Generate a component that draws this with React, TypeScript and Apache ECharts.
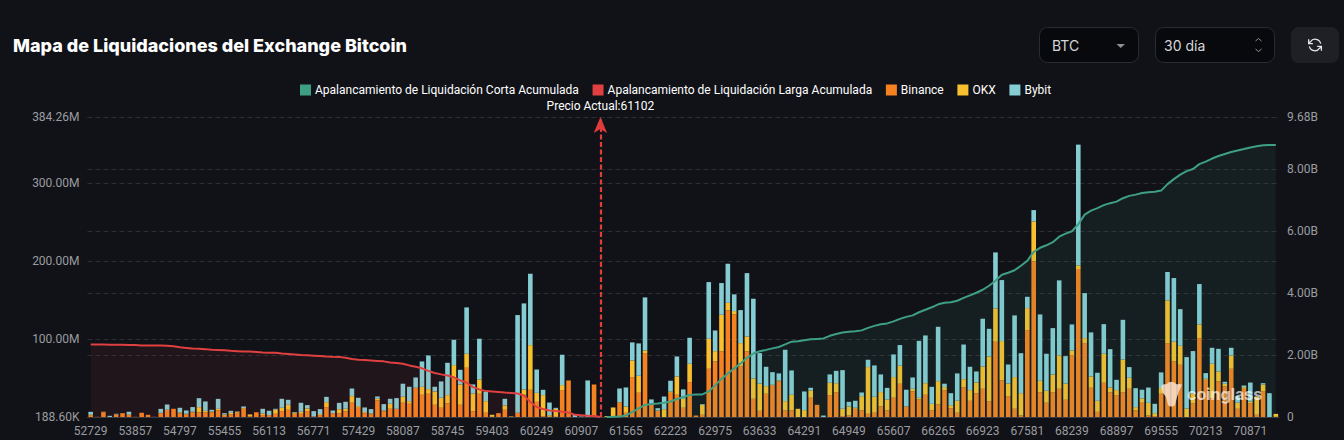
import React, { useEffect, useRef } from "react";
import * as echarts from "echarts";

const title = "Mapa de Liquidaciones del Exchange Bitcoin";
const legendNames = [
  "Apalancamiento de Liquidación Corta Acumulada",
  "Apalancamiento de Liquidación Larga Acumulada",
  "Binance",
  "OKX",
  "Bybit",
];
const currentPriceIndex = 80;
const currentPriceLabel = "Precio Actual:61102";

const prices = [
  52729, 52917, 53105, 53199, 53387, 53575, 53763, 53857, 53951, 54139,
  54233, 54421, 54515, 54703, 54797, 54891, 54985, 55079, 55173, 55267,
  55361, 55455, 55549, 55643, 55737, 55831, 55925, 56019, 56113, 56207,
  56301, 56395, 56489, 56583, 56677, 56771, 56865, 56959, 57053, 57147,
  57241, 57335, 57429, 57523, 57617, 57711, 57805, 57899, 57993, 58087,
  58181, 58275, 58369, 58463, 58557, 58651, 58745, 58839, 58933, 59027,
  59121, 59215, 59309, 59403, 59497, 59591, 59685, 59779, 59873, 60061,
  60249, 60343, 60437, 60531, 60625, 60719, 60813, 60907, 61001, 61095,
  61189, 61283, 61377, 61471, 61565, 61659, 61753, 61847, 61941, 62035,
  62129, 62223, 62317, 62411, 62505, 62599, 62693, 62787, 62975, 63069,
  63163, 63257, 63351, 63445, 63539, 63633, 63727, 63821, 63915, 64009,
  64103, 64197, 64291, 64385, 64479, 64573, 64667, 64761, 64855, 64949,
  65043, 65137, 65231, 65325, 65419, 65513, 65607, 65701, 65795, 65889,
  65983, 66077, 66171, 66265, 66359, 66453, 66547, 66641, 66735, 66829,
  66923, 67017, 67111, 67205, 67299, 67393, 67487, 67581, 67675, 67769,
  67863, 67957, 68051, 68145, 68239, 68333, 68427, 68521, 68615, 68709,
  68803, 68897, 68991, 69085, 69179, 69273, 69367, 69461, 69555, 69649,
  69743, 69837, 69931, 70025, 70119, 70213, 70307, 70401, 70495, 70589,
  70683, 70777, 70871, 70965, 71059, 71153, 71247,
];

// millions of USD
const binance = [
  2.6, 0.4, 6.0, 0, 3.4, 5.1, 2.6, 0.4, 5.6, 3.0,
  0.4, 5.1, 9.4, 10.7, 5.1, 3.4, 6.0, 6.0, 6.0, 6.0,
  8.5, 1.7, 3.4, 5.6, 10.7, 0.9, 6.4, 2.6, 2.6, 4.3,
  7.7, 9.4, 4.3, 4.3, 7.7, 0.9, 2.6, 12.8, 5.1, 5.1,
  7.3, 18.4, 12.0, 5.1, 3.4, 21.4, 7.3, 10.7, 10.7, 18.4,
  17.1, 37.6, 28.6, 29.9, 15.8, 12.0, 17.5, 49.1, 15.8, 63.2,
  7.3, 29.9, 5.6, 0.4, 5.1, 9.4, 0, 5.6, 28.6, 35.0,
  19.6, 0.9, 0.4, 0.4, 34.6, 47.0, 0, 0, 0, 41.8,
  0, 0, 0.4, 19.2, 5.6, 51.2, 31.2, 82.0, 17.1, 8.5,
  0, 31.2, 28.6, 12.0, 44.8, 2.1, 3.0, 61.9, 71.3, 84.1,
  136.6, 131.5, 65.3, 84.1, 23.5, 8.1, 29.9, 41.4, 45.7, 8.5,
  8.5, 0, 0, 24.8, 15.8, 0, 28.2, 32.0, 1.3, 2.1,
  10.7, 8.5, 4.3, 5.6, 13.7, 8.5, 24.8, 42.7, 13.7, 32.9,
  22.6, 28.6, 8.5, 16.2, 34.2, 11.5, 5.6, 38.4, 20.9, 30.3,
  36.3, 20.5, 96.5, 47.0, 26.9, 10.7, 2.1, 111.4, 199.4, 32.0,
  18.4, 32.0, 36.3, 22.2, 79.4, 189.6, 94.8, 37.6, 6.8, 44.0,
  32.0, 28.2, 32.0, 36.3, 8.5, 18.4, 2.1, 1.3, 29.9, 94.8,
  71.3, 67.0, 0, 17.9, 101.2, 47.8, 24.3, 45.7, 39.3, 61.9,
  10.7, 36.3, 17.9, 3.0, 33.3, 0, 0.4,
];
const okx = [
  0.4, 0, 0.9, 0, 0, 0, 0.9, 0, 0, 0,
  0, 0.4, 0, 0, 0.9, 0.9, 0.9, 6.8, 2.1, 1.3,
  2.1, 1.7, 2.1, 1.3, 0.9, 2.6, 0, 2.1, 0, 5.1,
  4.3, 6.4, 1.3, 2.6, 3.4, 0, 1.3, 6.4, 0, 5.1,
  3.4, 8.5, 2.1, 1.3, 1.3, 2.1, 1.3, 6.4, 0, 7.7,
  3.4, 0, 10.2, 6.0, 17.1, 12.8, 10.7, 17.5, 26.0, 17.9,
  23.1, 18.4, 14.9, 2.6, 0, 5.6, 0.9, 0, 6.8, 57.2,
  11.5, 27.3, 2.1, 10.2, 6.4, 0, 0, 0, 0, 0,
  0, 1.3, 12.0, 0, 8.1, 21.4, 21.8, 3.4, 0, 0,
  10.2, 1.7, 23.5, 11.5, 23.5, 0, 12.8, 38.4, 13.2, 47.0,
  9.8, 4.3, 29.5, 19.2, 26.0, 35.0, 9.8, 0, 1.3, 12.0,
  20.1, 10.7, 9.0, 9.4, 0, 0, 15.8, 11.5, 9.4, 11.5,
  1.3, 18.4, 59.8, 20.5, 18.4, 14.1, 26.5, 23.1, 0, 3.4,
  2.1, 14.9, 8.5, 29.9, 4.3, 3.8, 15.4, 10.2, 13.7, 14.1,
  28.6, 57.2, 42.7, 50.4, 16.2, 40.6, 28.6, 28.2, 51.2, 14.5,
  15.4, 22.6, 42.7, 20.9, 6.0, 4.7, 6.4, 14.5, 14.1, 37.1,
  6.0, 6.4, 41.8, 14.1, 4.3, 5.6, 16.2, 3.8, 7.3, 54.7,
  25.2, 24.3, 11.1, 12.0, 17.5, 1.3, 44.0, 12.8, 3.4, 17.1,
  7.7, 2.1, 2.1, 23.5, 8.5, 0, 3.8,
];
const bybit = [
  3.8, 0, 0, 1.7, 0.9, 0, 3.4, 0, 0, 0,
  0, 5.1, 6.8, 0, 6.0, 4.3, 6.0, 11.5, 12.0, 2.1,
  12.8, 1.7, 2.6, 0.4, 2.1, 0, 0, 6.0, 5.6, 1.3,
  11.5, 6.4, 0.9, 11.5, 4.3, 6.8, 6.4, 6.8, 3.4, 8.1,
  9.0, 9.8, 10.7, 6.0, 5.6, 3.0, 8.1, 6.4, 13.7, 16.7,
  18.4, 13.2, 32.5, 43.1, 6.0, 20.9, 41.4, 32.5, 18.8, 59.4,
  11.5, 52.1, 12.0, 0, 0, 8.5, 0, 125.1, 110.2, 91.4,
  29.9, 6.8, 16.2, 1.3, 38.9, 0, 3.4, 0.9, 47.0, 0,
  0, 0, 0, 17.5, 24.3, 23.1, 41.4, 67.9, 5.6, 3.0,
  16.2, 13.7, 25.6, 12.0, 33.3, 0, 0.9, 72.6, 26.5, 40.6,
  50.0, 21.4, 42.3, 81.1, 102.1, 38.9, 24.8, 16.2, 9.0, 65.8,
  31.2, 0, 23.9, 3.4, 0, 2.1, 10.7, 15.8, 49.5, 6.0,
  9.0, 4.7, 9.4, 40.1, 22.6, 14.9, 29.0, 26.5, 21.4, 14.5,
  73.0, 61.1, 21.8, 69.6, 4.3, 15.4, 35.0, 44.4, 29.9, 14.1,
  61.1, 35.4, 71.7, 78.1, 24.3, 79.0, 51.2, 14.5, 14.5, 85.0,
  47.4, 59.4, 96.1, 35.0, 33.3, 154.6, 57.6, 56.4, 35.9, 38.0,
  49.1, 13.2, 50.8, 13.7, 24.3, 11.1, 19.6, 12.0, 20.1, 36.3,
  81.6, 47.0, 65.8, 54.7, 51.7, 7.3, 20.5, 29.0, 2.6, 9.8,
  8.5, 2.1, 24.3, 0, 1.7, 30.7, 0,
];

// billions of USD, indices 0..80
const longCumulative = [
  2.34, 2.34, 2.34, 2.335, 2.33, 2.33, 2.325, 2.32, 2.31, 2.31,
  2.31, 2.31, 2.30, 2.28, 2.25, 2.23, 2.21, 2.20, 2.19, 2.17,
  2.16, 2.15, 2.135, 2.125, 2.115, 2.11, 2.10, 2.085, 2.075, 2.07,
  2.05, 2.035, 2.02, 2.00, 1.99, 1.98, 1.97, 1.955, 1.945, 1.94,
  1.91, 1.87, 1.85, 1.84, 1.825, 1.81, 1.795, 1.76, 1.745, 1.72,
  1.665, 1.62, 1.57, 1.49, 1.42, 1.375, 1.34, 1.28, 1.18, 1.115,
  0.965, 0.89, 0.835, 0.825, 0.81, 0.79, 0.775, 0.76, 0.695, 0.485,
  0.32, 0.26, 0.21, 0.195, 0.17, 0.145, 0.07, 0.055, 0.04, 0.03,
  0,
];
// billions of USD, indices 81..186
const shortCumulative = [
  0, 0.005, 0.015, 0.05, 0.16, 0.275, 0.39, 0.42, 0.435, 0.46,
  0.5, 0.58, 0.645, 0.71, 0.73, 0.73, 0.825, 1.02, 1.23, 1.405,
  1.57, 1.73, 1.91, 2.05, 2.12, 2.165, 2.215, 2.26, 2.345, 2.43,
  2.445, 2.48, 2.505, 2.52, 2.535, 2.62, 2.68, 2.725, 2.75, 2.765,
  2.795, 2.875, 2.94, 2.99, 3.02, 3.085, 3.165, 3.23, 3.28, 3.38,
  3.46, 3.54, 3.635, 3.685, 3.70, 3.75, 3.845, 3.925, 4.01, 4.105,
  4.235, 4.395, 4.59, 4.655, 4.735, 4.88, 5.04, 5.33, 5.46, 5.54,
  5.64, 5.82, 5.915, 5.995, 6.22, 6.53, 6.66, 6.74, 6.835, 6.90,
  6.95, 7.06, 7.135, 7.175, 7.225, 7.255, 7.27, 7.305, 7.515, 7.675,
  7.82, 7.935, 8.0, 8.16, 8.24, 8.34, 8.42, 8.485, 8.55, 8.6,
  8.645, 8.695, 8.735, 8.765, 8.775, 8.775,
];

const labelColor = "#9b9ca0";
const gridColor = "#2b2d31";
const bgColor = "#111217";
const fontFamily = "Roboto, sans-serif";

const fmtLeft = (v: number) => (v < 1 ? (v * 1000).toFixed(2) + "K" : v.toFixed(2) + "M");
const fmtRight = (v: number) => (v === 0 ? "0" : v.toFixed(2) + "B");

export default function App() {
  const ref = useRef<HTMLDivElement>(null);
  useEffect(() => {
    document.body.style.margin = "0";
    document.body.style.background = bgColor;
    echarts.graphic.registerShape(
      "refreshIcon",
      echarts.graphic.extendPath(
        "M20 10A8 8 0 0 0 5.5 7.5L3 10M3 4v6h6M4 14a8 8 0 0 0 14.5 2.5L21 14M21 20v-6h-6",
        {}
      )
    );
    echarts.graphic.registerShape(
      "wingLogo",
      echarts.graphic.extendPath(
        "M1 5C3 1 5 3 7 2C9 -1 14 -1 16 2C18 3 20 1 22 3L19 9L17 15L15 23C13 25 10 25 8 23L6 15L3 11Z",
        {}
      )
    );
    const chart = echarts.init(ref.current!, null, { renderer: "svg" });
    const stackBar = (name: string, data: number[], color: string) => ({
      name,
      type: "bar",
      stack: "ex",
      yAxisIndex: 0,
      barWidth: 4.6,
      data,
      itemStyle: { color },
      silent: true,
    });
    chart.setOption({
      animation: false,
      backgroundColor: bgColor,
      title: {
        text: title,
        left: 8,
        top: 31,
        textStyle: { color: "#ffffff", fontFamily: "Inter, sans-serif", fontSize: 18, fontWeight: 800 },
      },
      legend: {
        left: 295,
        top: 79,
        itemWidth: 11,
        itemHeight: 11,
        itemGap: 13.7,
        icon: "rect",
        selectedMode: false,
        data: legendNames,
        textStyle: { color: "#ffffff", fontFamily, fontSize: 12, padding: [0, 0, 0, -1] },
      },
      grid: { left: 87.5, right: 65, top: 117, bottom: 23 },
      xAxis: {
        type: "category",
        data: prices.map(String),
        axisLine: { lineStyle: { color: "#3a3c42" } },
        axisTick: { length: 4, interval: 6, lineStyle: { color: "#3a3c42" } },
        axisLabel: { color: labelColor, fontFamily, fontSize: 12, interval: 6, margin: 8, hideOverlap: false },
      },
      yAxis: [
        {
          type: "value",
          min: 0.1886,
          max: 384.26,
          axisLabel: { color: labelColor, fontFamily, fontSize: 12, formatter: fmtLeft },
          axisLine: { show: false },
          axisTick: { show: false },
          splitLine: { lineStyle: { color: gridColor, type: [5, 3] } },
        },
        {
          type: "value",
          min: 0,
          max: 9.68,
          position: "right",
          axisLabel: { color: labelColor, fontFamily, fontSize: 12, formatter: fmtRight },
          axisLine: { show: false },
          axisTick: { show: false },
          splitLine: { lineStyle: { color: gridColor, type: [5, 3] } },
        },
      ],
      series: [
        stackBar("Binance", binance, "#F58220"),
        stackBar("OKX", okx, "#F8C02E"),
        stackBar("Bybit", bybit, "#85CDD3"),
        {
          name: legendNames[0],
          type: "line",
          yAxisIndex: 1,
          showSymbol: false,
          silent: true,
          data: [...longCumulative.map(() => null), ...shortCumulative],
          itemStyle: { color: "#3F9F85" },
          lineStyle: { color: "#3F9F85", width: 2 },
          areaStyle: { color: "rgba(63,159,133,0.13)" },
          z: 5,
        },
        {
          name: legendNames[1],
          type: "line",
          yAxisIndex: 1,
          showSymbol: false,
          silent: true,
          data: longCumulative,
          itemStyle: { color: "#E04040" },
          lineStyle: { color: "#E04040", width: 2 },
          areaStyle: { color: "rgba(224,64,64,0.1)" },
          z: 5,
          markLine: {
            silent: true,
            animation: false,
            symbol: ["none", "arrow"],
            symbolSize: [10, 16],
            lineStyle: { color: "#E03C3C", type: [5, 2.5], width: 2.2 },
            label: {
              show: true,
              position: "end",
              formatter: currentPriceLabel,
              color: "#ffffff",
              fontFamily,
              fontSize: 12,
              distance: 5,
            },
            data: [{ xAxis: currentPriceIndex }],
          },
        },
      ],
      graphic: [
        { type: "rect", shape: { x: 1039.5, y: 27.5, width: 99, height: 35, r: 8 }, style: { fill: "#08090c", stroke: "#2a2c32", lineWidth: 1 } },
        { type: "text", x: 1052, y: 45, style: { text: "BTC", fill: "#d6d7da", fontFamily: "Inter, sans-serif", fontSize: 14, verticalAlign: "middle" } },
        { type: "polygon", shape: { points: [[1116.5, 44], [1125, 44], [1120.7, 48]] }, style: { fill: "#8e9095" } },
        { type: "rect", shape: { x: 1155.5, y: 27.5, width: 119, height: 35, r: 8 }, style: { fill: "#08090c", stroke: "#2a2c32", lineWidth: 1 } },
        { type: "text", x: 1164, y: 45, style: { text: "30 día", fill: "#d6d7da", fontFamily: "Inter, sans-serif", fontSize: 14, verticalAlign: "middle" } },
        { type: "polyline", shape: { points: [[1255.5, 41], [1258.5, 38.5], [1261.5, 41]] }, style: { fill: "none", stroke: "#8e9095", lineWidth: 1 } },
        { type: "polyline", shape: { points: [[1255.5, 49], [1258.5, 51.5], [1261.5, 49]] }, style: { fill: "none", stroke: "#8e9095", lineWidth: 1 } },
        { type: "rect", shape: { x: 1291, y: 27, width: 48, height: 36, r: 8 }, style: { fill: "#1e2025" } },
        { type: "refreshIcon", x: 1306.5, y: 36.5, scaleX: 0.71, scaleY: 0.71, style: { fill: "none", stroke: "#e4e5e7", lineWidth: 1.8 } },
        { type: "wingLogo", x: 1160, y: 382, scaleX: 1, scaleY: 1, z: 100, style: { fill: "rgba(250,225,205,0.85)" } },
        { type: "text", x: 1187, y: 394, z: 100, style: { text: "coinglass", fill: "rgba(255,255,255,0.68)", fontFamily: "Inter, sans-serif", fontSize: 16, fontWeight: 700, verticalAlign: "middle" } },
      ],
    });
    return () => chart.dispose();
  }, []);
  return <div ref={ref} style={{ position: "fixed", left: 0, top: 0, width: 1344, height: 440 }} />;
}
